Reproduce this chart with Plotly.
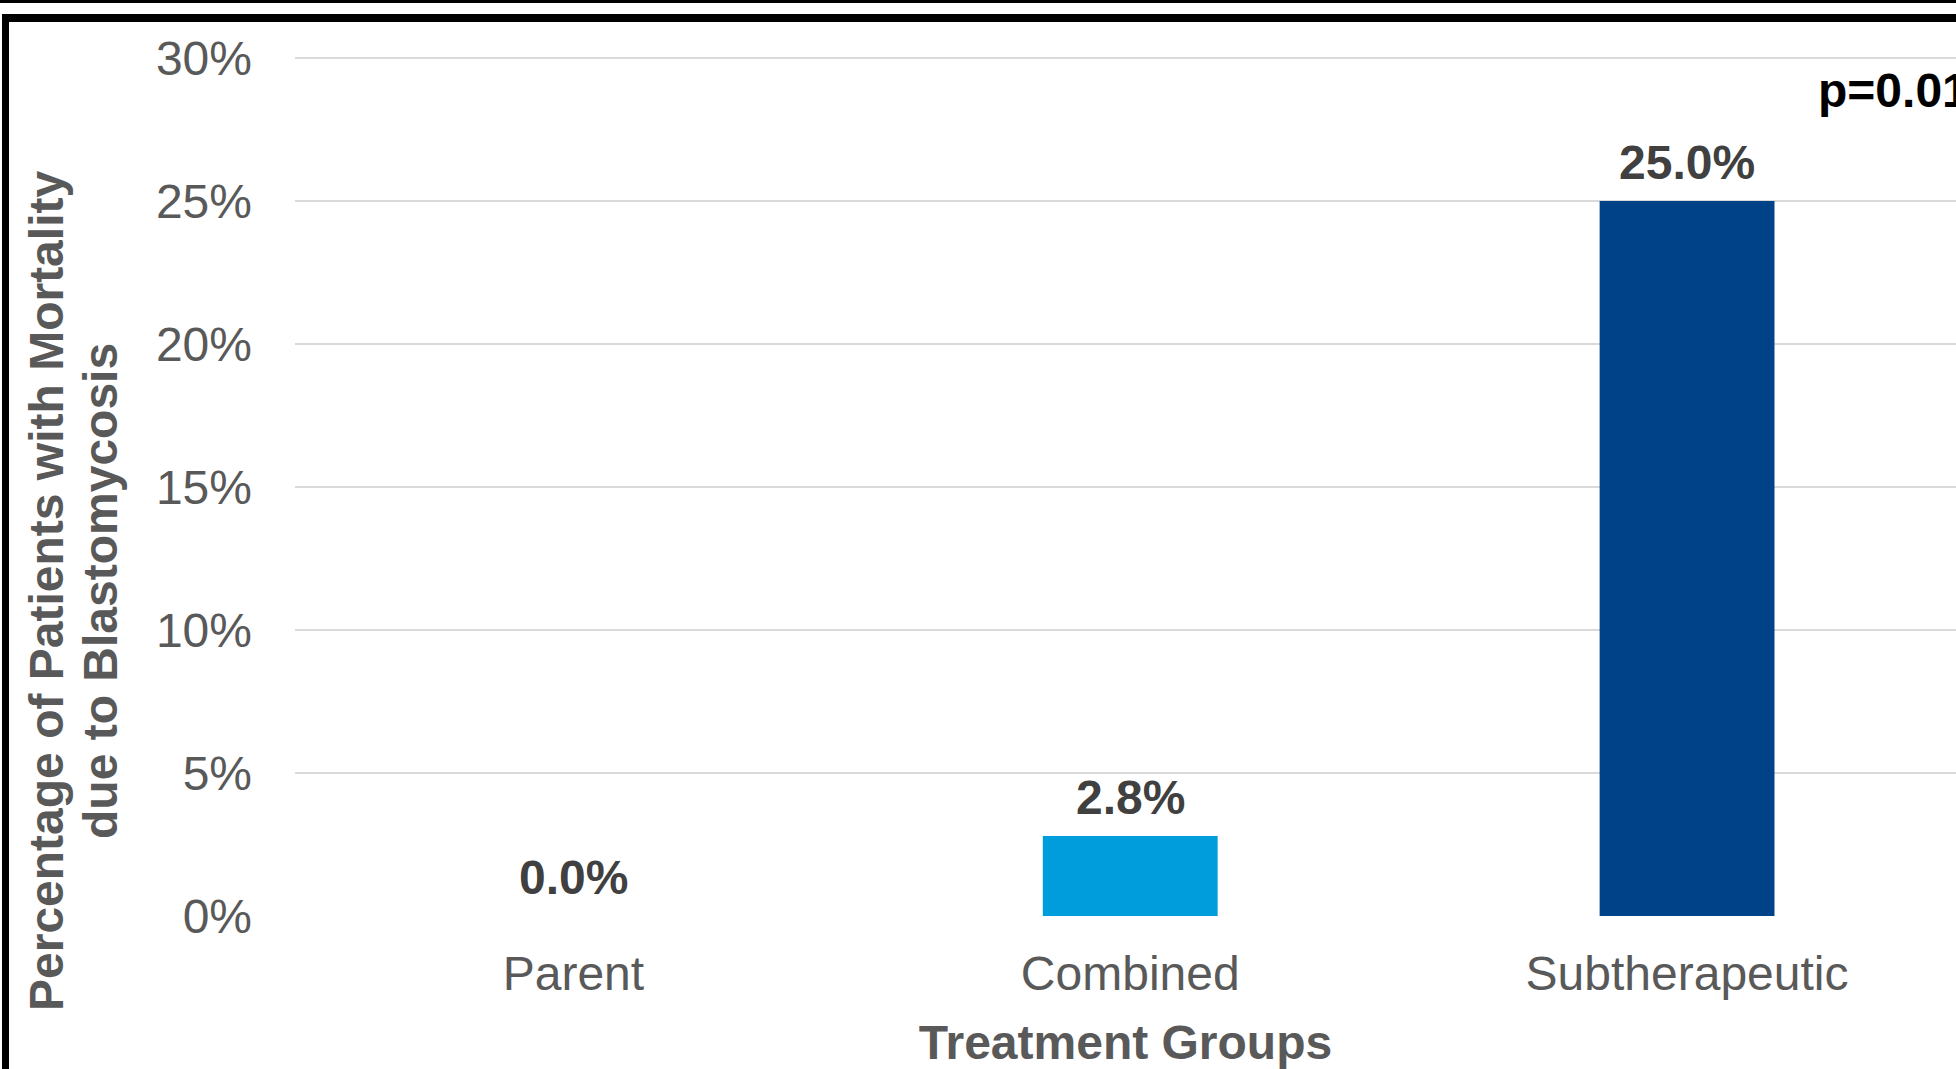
import plotly.graph_objects as go

# ---- data ----
categories = ["Parent", "Combined", "Subtherapeutic"]
mortality = [0.0, 0.028, 0.25]
bar_colors = ["#7F7F7F", "#009DDC", "#004288"]
value_labels = ["0.0%", "2.8%", "25.0%"]
y_ticks = [0, 0.05, 0.10, 0.15, 0.20, 0.25, 0.30]
y_tick_labels = ["0%", "5%", "10%", "15%", "20%", "25%", "30%"]
p_value_text = "p=0.01"
x_title = "Treatment Groups"
y_title_lines = ["Percentage of Patients with Mortality", "due to Blastomycosis"]

# ---- layout geometry (pixels) ----
W, H = 1956, 1069
ML, MR, MT, MB = 295, 0, 50, 153
PW = W - ML - MR
PH = H - MT - MB
PX_PER_UNIT = 858 / 0.30          # 0.30 sits at y=58 px, 0 at y=916 px
Y_TOP = PH / PX_PER_UNIT


def px_x(px):
    return (px - ML) / PW


def px_y(py):
    return (H - MB - py) / PH


FONT = "Liberation Sans, Arial, sans-serif"

fig = go.Figure()
fig.add_trace(
    go.Bar(
        x=categories,
        y=mortality,
        marker=dict(color=bar_colors, line=dict(width=0)),
        hoverinfo="skip",
    )
)

annotations = []
for c, v, t in zip(categories, mortality, value_labels):
    annotations.append(
        dict(
            x=c, y=v, xref="x", yref="y", text=t, showarrow=False,
            xanchor="center", yanchor="bottom", yshift=10,
            font=dict(family=FONT, size=48, color="#404040", weight="bold"),
        )
    )

# y-axis title (two lines)
for i, line in enumerate(y_title_lines):
    annotations.append(
        dict(
            x=px_x(46 + 54 * i), y=px_y(591), xref="paper", yref="paper",
            text=line, showarrow=False, textangle=-90,
            xanchor="center", yanchor="middle",
            font=dict(family=FONT, size=48, color="#595959", weight="bold"),
        )
    )

# p-value (cut off by the right edge, as in the source slide)
annotations.append(
    dict(
        x=px_x(1816), y=px_y(90), xref="paper", yref="paper",
        text=p_value_text, showarrow=False,
        xanchor="left", yanchor="middle",
        font=dict(family=FONT, size=48, color="#000000", weight="bold"),
    )
)

shapes = [
    # thin top line
    dict(type="rect", xref="paper", yref="paper",
         x0=px_x(0), x1=px_x(W + 10), y0=px_y(0), y1=px_y(3),
         fillcolor="#000000", line=dict(width=0), layer="above"),
    # frame top edge
    dict(type="rect", xref="paper", yref="paper",
         x0=px_x(2), x1=px_x(W + 10), y0=px_y(14), y1=px_y(22),
         fillcolor="#000000", line=dict(width=0), layer="above"),
    # frame left edge
    dict(type="rect", xref="paper", yref="paper",
         x0=px_x(2), x1=px_x(9), y0=px_y(14), y1=px_y(H + 10),
         fillcolor="#000000", line=dict(width=0), layer="above"),
]

fig.update_layout(
    width=W, height=H,
    margin=dict(l=ML, r=MR, t=MT, b=MB, pad=0),
    paper_bgcolor="white", plot_bgcolor="white",
    showlegend=False,
    bargap=0.686,
    annotations=annotations,
    shapes=shapes,
    font=dict(family=FONT),
    xaxis=dict(
        type="category",
        range=[-0.5, 2.483],
        showgrid=False, showline=False, zeroline=False, ticks="",
        tickfont=dict(family=FONT, size=48, color="#595959"),
        ticklabelstandoff=25,
        automargin=False,
        title=dict(text=x_title, standoff=30,
                   font=dict(family=FONT, size=48, color="#595959", weight="bold")),
    ),
    yaxis=dict(
        range=[0, Y_TOP],
        tickvals=y_ticks, ticktext=y_tick_labels,
        showgrid=True, gridcolor="#D9D9D9", gridwidth=2,
        zeroline=False, showline=False, ticks="",
        tickfont=dict(family=FONT, size=48, color="#595959"),
        ticklabelstandoff=42,
        automargin=False,
    ),
)

fig.write_html("out.html")
